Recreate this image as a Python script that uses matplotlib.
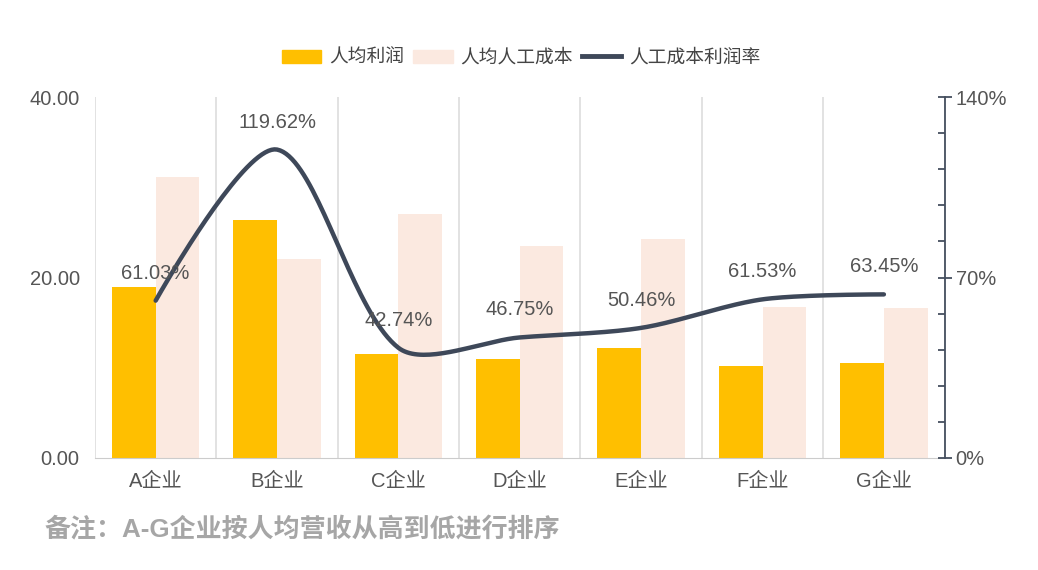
import matplotlib.pyplot as plt
import numpy as np
from matplotlib.patches import Patch
from matplotlib.lines import Line2D
from matplotlib.ticker import MultipleLocator

plt.rcParams['font.family'] = ['Liberation Sans', 'Noto Sans CJK SC']

companies = ['A企业', 'B企业', 'C企业', 'D企业', 'E企业', 'F企业', 'G企业']
profit = [19.0, 26.4, 11.5, 11.0, 12.2, 10.2, 10.5]
labor_cost = [31.1, 22.0, 27.0, 23.5, 24.3, 16.7, 16.6]
rate = [61.03, 119.62, 42.74, 46.75, 50.46, 61.53, 63.45]
rate_labels = ['61.03%', '119.62%', '42.74%', '46.75%', '50.46%', '61.53%', '63.45%']

gold = '#FFBF00'
peach = '#FBE9E0'
line_c = '#3E4859'
txt = '#555555'


def smooth_line(xs, ys, sx=121.4, sy=361 / 140, s=0.3, n=40):
    # bezier through the points, control points weighted by segment length
    P = np.column_stack([np.asarray(xs, float) * sx, np.asarray(ys, float) * sy])
    k = len(P)
    cin, cout = P.copy(), P.copy()
    for i in range(1, k - 1):
        v = P[i + 1] - P[i - 1]
        dp = np.linalg.norm(P[i] - P[i - 1])
        dn = np.linalg.norm(P[i + 1] - P[i])
        cin[i] = P[i] - v * s * dp / (dp + dn)
        cout[i] = P[i] + v * s * dn / (dp + dn)
    t = np.linspace(0, 1, n)[:, None]
    pts = []
    for i in range(k - 1):
        a, b, c, d = P[i], cout[i], cin[i + 1], P[i + 1]
        pts.append((1 - t) ** 3 * a + 3 * (1 - t) ** 2 * t * b + 3 * (1 - t) * t ** 2 * c + t ** 3 * d)
    pts = np.vstack(pts)
    return pts[:, 0] / sx, pts[:, 1] / sy


fig = plt.figure(figsize=(10.38, 5.70), dpi=100)
ax = fig.add_axes([0.0915, 0.1965, 0.8185, 0.6333])
x = np.arange(len(companies))
w = 0.36

ax.bar(x, profit, width=-w, align='edge', color=gold, zorder=2)
ax.bar(x, labor_cost, width=w, align='edge', color=peach, zorder=2)

ax.set_xlim(-0.5, len(companies) - 0.5)
ax.set_ylim(0, 40)
ax.set_yticks([0, 20, 40])
ax.set_yticklabels(['0.00', '20.00', '40.00'])
ax.set_xticks(x)
ax.set_xticklabels(companies)
for b in np.arange(-0.5, len(companies), 1.0):
    ax.axvline(b, color='#DDDDDD', lw=1.2, zorder=1)
for s in ['top', 'right', 'left']:
    ax.spines[s].set_visible(False)
ax.spines['bottom'].set_color('#CCCCCC')
ax.tick_params(axis='both', length=0, labelsize=14.5, colors=txt)
ax.tick_params(axis='y', pad=11)
ax.tick_params(axis='x', pad=10)

ax2 = ax.twinx()
ax2.set_ylim(0, 140)
ax2.set_yticks([0, 70, 140])
ax2.set_yticklabels(['0%', '70%', '140%'])
ax2.yaxis.set_minor_locator(MultipleLocator(14))
for s in ['top', 'left', 'bottom']:
    ax2.spines[s].set_visible(False)
ax2.spines['right'].set_color('#454F5F')
ax2.spines['right'].set_linewidth(1.3)
ax2.tick_params(axis='y', which='major', direction='inout', length=10, width=1.3,
                color='#454F5F', labelsize=14.5, labelcolor=txt, pad=3)
ax2.tick_params(axis='y', which='minor', direction='in', length=5, width=1.3, color='#454F5F')

cx, cy = smooth_line(x, rate)
ax2.plot(cx, cy, color=line_c, lw=3.2, solid_capstyle='round', zorder=3)
for xi, yi, lab in zip(x, rate, rate_labels):
    ax2.annotate(lab, (xi, yi), xytext=(0, 13), textcoords='offset points',
                 ha='center', va='bottom', fontsize=14.5, color=txt)

handles = [Patch(color=gold), Patch(color=peach),
           Line2D([0], [0], color=line_c, lw=3.5)]
fig.legend(handles, ['人均利润', '人均人工成本', '人工成本利润率'], loc='center',
           bbox_to_anchor=(0.502, 0.898), ncol=3, frameon=False, fontsize=13.5,
           labelcolor='#444444', handlelength=2.1, handleheight=0.75,
           handletextpad=0.4, columnspacing=0.5)

fig.text(0.043, 0.07, '备注：A-G企业按人均营收从高到低进行排序', fontsize=18.7,
         fontweight='bold', color='#A6A6A6', va='center')

fig.savefig('out.png', dpi=100)
